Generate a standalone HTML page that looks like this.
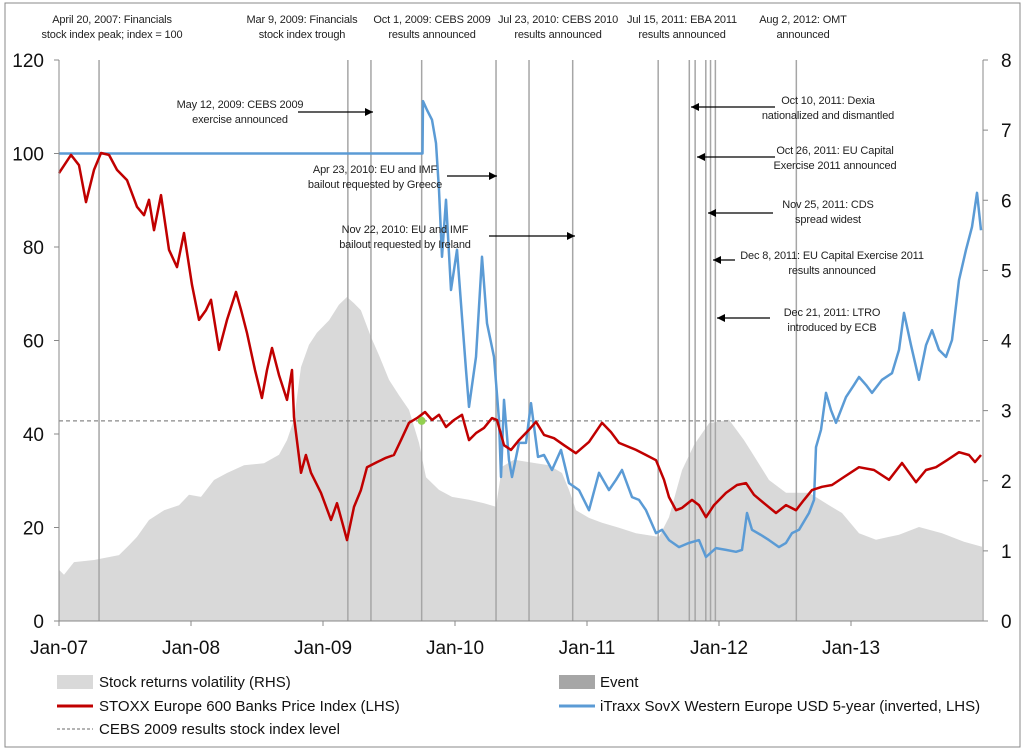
<!DOCTYPE html>
<html><head><meta charset="utf-8"><style>
body{margin:0;background:#fff;}
svg{display:block;font-family:"Liberation Sans",Arial,sans-serif;}
.ann{font-size:11px;fill:#222;text-anchor:middle;letter-spacing:-0.15px;}
.ax{font-size:19px;fill:#111;}
.lg{font-family:"Liberation Sans Narrow","Liberation Sans",sans-serif;font-size:15px;fill:#111;}
</style></head><body>
<svg id="chart" width="1024" height="752" viewBox="0 0 1024 752">
<rect x="5" y="3" width="1015" height="744" fill="#fff" stroke="#888" stroke-width="1"/>
<g id="vol"></g>
<g id="events"></g>
<g id="refline"></g>
<g id="series"></g>
<g id="axes"></g>
<g id="annots"></g>
<g id="legend">
 <rect x="57" y="675" width="36" height="14" fill="#d9d9d9"/>
 <text class="lg" x="99" y="687">Stock returns volatility (RHS)</text>
 <rect x="559" y="675" width="36" height="14" fill="#a6a6a6"/>
 <text class="lg" x="600" y="687">Event</text>
 <line x1="57" y1="706" x2="93" y2="706" stroke="#c00000" stroke-width="3"/>
 <text class="lg" x="99" y="711">STOXX Europe 600 Banks Price Index (LHS)</text>
 <line x1="559" y1="706" x2="595" y2="706" stroke="#5b9bd5" stroke-width="3"/>
 <text class="lg" x="600" y="711">iTraxx SovX Western Europe USD 5-year (inverted, LHS)</text>
 <line x1="57" y1="729" x2="93" y2="729" stroke="#888" stroke-width="1.2" stroke-dasharray="3,2"/>
 <text class="lg" x="99" y="734">CEBS 2009 results stock index level</text>
</g>
</svg>
<script>
// months since Jan-2007
const redMonths=[0,1.09,1.82,2.45,3.18,3.82,4.55,5.27,6.18,7.09,7.73,8.18,8.64,9.27,10,10.73,11.36,12.09,12.73,13.36,13.82,14.55,15.27,16.09,16.55,17.09,17.82,18.45,18.91,19.36,20,20.73,21.18,21.36,22,22.45,22.91,23.82,24.73,25.27,25.82,26.18,26.82,27.45,28,28.91,29.73,30.45,31.09,31.82,32.55,33.27,33.91,34.55,35.18,35.91,36.64,37.27,37.91,38.64,39.36,39.82,40.45,41.09,41.82,42.73,43.36,44.09,45,45.91,46.99,48.18,49.36,50.18,50.91,52.45,53.36,54.27,55,55.45,56.09,56.64,57.55,58.18,58.82,59.55,60.64,61.64,62.45,63.18,64.09,65.18,66.09,67,67.73,68.45,69.36,70.27,71.36,72.73,74.09,75.45,76.64,77.91,78.82,79.73,80.73,81.82,82.73,83.27,83.82];
const redValues=[95.8,99.7,97.5,89.6,96.5,100.1,99.7,96.5,94.3,88.6,86.8,90.1,83.6,91.1,79.4,75.7,83,71.9,64.4,66.5,68.7,58,64.4,70.4,66.5,61.6,53.7,47.7,53.7,58.4,52.6,47.3,53.7,43.6,31.7,35.5,31.7,27.4,21.6,25.2,20.5,17.3,24.4,28,32.9,34,34.9,35.5,38.7,42.4,43.4,44.7,43,44.1,41.5,43,44.1,38.7,40.2,41.3,43.4,43,37.6,36.6,38.7,40.9,42.6,39.8,39.1,37.6,35.9,38.3,42.4,40.4,38.1,36.6,35.5,34.4,30.2,26.5,23.7,24.2,25.9,24.8,22.2,24.8,27.4,29.1,29.5,27,25.2,23.1,24.8,23.7,25.9,28,28.7,29.1,30.8,32.9,32.3,30.2,33.8,29.7,32.3,32.9,34.4,36.1,35.5,34,35.5];
const blueMonths=[0,33.05,33.09,33.45,33.91,34.27,34.55,34.82,35.18,35.64,36.18,36.64,37,37.27,37.91,38.45,38.91,39.55,40,40.18,40.45,40.91,41.18,41.82,42.45,42.91,43.55,44.09,44.82,45.64,46.36,47.27,48.18,49.09,50,50.64,51.18,52.09,52.73,53.36,54.27,54.82,55.45,56.36,57.27,58.18,58.82,59.73,60.64,61.55,62.09,62.55,63,63.82,64.55,65.45,66.09,66.64,67.27,68.18,68.64,68.82,69.27,69.73,70.18,70.64,71.55,72.27,72.73,73.36,73.91,74.82,75.73,76.36,76.82,77.45,78.18,78.82,79.36,80,80.64,81.18,81.82,82.45,83,83.45,83.82];
const blueValues=[100,100,111.2,109.3,107.2,102.2,92.2,77.9,90.1,70.8,79.4,65,53.7,45.8,56.5,77.9,63.7,56.5,43,30.8,47.3,34.4,30.8,38.1,38.1,46.6,35.1,35.5,32.3,36.6,29.5,28,23.7,31.7,28,30.2,32.3,26.5,25.9,23.7,18.8,19.5,17.3,15.8,16.7,17.3,13.7,15.6,15.2,14.8,15.2,23.1,19.5,18.4,17.3,15.8,16.7,18.8,19.5,23.1,25.9,37.2,40.9,48.8,45.1,42.4,47.9,50.5,52.2,50.5,48.8,51.6,53,58,65.9,59,51.6,59,62.2,58,56.5,60.1,72.9,79.4,84.3,91.6,83.6];
const volMonths=[0,0.45,1.36,3.18,5.45,6.36,7.09,8.18,9.55,10.91,11.82,12.91,14.09,15.27,16.82,18.64,20,20.73,21.36,22,22.73,23.45,24.55,25.45,26.18,26.82,27.45,28.36,29.09,30,30.91,31.82,32.73,33.36,34.55,35.73,37.27,38.64,39.73,40.27,41.36,43.36,44.55,45.73,46.36,47,48.18,49.36,50.91,52.45,54.55,55.45,56.64,57.73,59.09,60.91,62.27,63,64.55,66.09,68.18,70,71.18,72.73,74.27,76.36,78.18,80.27,82.27,83.91];
const volValues=[0.73,0.66,0.84,0.87,0.94,1.08,1.2,1.44,1.58,1.65,1.8,1.77,2.01,2.11,2.22,2.25,2.37,2.58,2.87,3.62,3.94,4.11,4.29,4.51,4.62,4.53,4.43,4.05,3.79,3.44,3.22,3.01,2.54,2.05,1.87,1.77,1.73,1.68,1.63,2.2,2.3,2.25,2.22,2.11,1.87,1.58,1.47,1.4,1.33,1.25,1.2,1.48,2.15,2.51,2.82,2.87,2.58,2.4,2.01,1.83,1.83,1.65,1.54,1.25,1.16,1.23,1.34,1.25,1.13,1.06];
const eventMonths=[3.64,26.26,28.36,32.97,39.73,42.73,46.7,54.47,57.3,57.83,58.8,59.23,59.67,67.03];
const leftTicks=[0,20,40,60,80,100,120];
const rightTicks=[0,1,2,3,4,5,6,7,8];
const xTickLabels=["Jan-07","Jan-08","Jan-09","Jan-10","Jan-11","Jan-12","Jan-13"];
const cebsLevel=42.8;

const X0=59,PXM=11.0,Y0=621,TOP=60;
const xs=m=>X0+m*PXM;
const yl=v=>Y0-v*(Y0-TOP)/120;
const yr=v=>Y0-v*(Y0-TOP)/8;
const NS="http://www.w3.org/2000/svg";
function mk(tag,parent,attrs){const e=document.createElementNS(NS,tag);for(const k in attrs)e.setAttribute(k,attrs[k]);parent.appendChild(e);return e;}

let d="M"+xs(volMonths[0])+","+Y0;
volMonths.forEach((m,i)=>{d+=" L"+xs(m).toFixed(1)+","+yr(volValues[i]).toFixed(1);});
d+=" L"+xs(volMonths[volMonths.length-1])+","+Y0+" Z";
const va=mk("path",document.getElementById("vol"),{d:d,fill:"#d9d9d9"});



eventMonths.forEach(m=>{
 const l=mk("line",document.getElementById("events"),{x1:xs(m),x2:xs(m),y1:TOP,y2:Y0,stroke:"#a6a6a6","stroke-width":1.5});
 
 
});

const rl=mk("line",document.getElementById("refline"),{x1:X0,x2:xs(84),y1:yl(cebsLevel),y2:yl(cebsLevel),stroke:"#888","stroke-width":1.2,"stroke-dasharray":"4,3"});



function line(ms,vs,col,name){
 let p="";ms.forEach((m,i)=>{p+=(i?" L":"M")+xs(m).toFixed(1)+","+yl(vs[i]).toFixed(1);});
 const e=mk("path",document.getElementById("series"),{d:p,fill:"none",stroke:col,"stroke-width":2.5,"stroke-linejoin":"round"});
 
 
}
line(blueMonths,blueValues,"#5b9bd5","itraxx-line");
line(redMonths,redValues,"#c00000","stoxx-line");
const dot=mk("circle",document.getElementById("series"),{cx:xs(32.97),cy:yl(cebsLevel),r:4,fill:"#92d050"});



const ax=document.getElementById("axes");
const a1=mk("line",ax,{x1:X0,x2:X0,y1:TOP,y2:Y0,stroke:"#888"});


const a2=mk("line",ax,{x1:xs(84),x2:xs(84),y1:TOP,y2:Y0,stroke:"#888"});


const a3=mk("line",ax,{x1:X0,x2:xs(84),y1:Y0,y2:Y0,stroke:"#888"});


leftTicks.forEach(v=>{
 const t=mk("line",ax,{x1:X0-5,x2:X0,y1:yl(v),y2:yl(v),stroke:"#888"});
 
 
 const tx=mk("text",ax,{x:44,y:yl(v)+7,"text-anchor":"end",class:"ax"});tx.textContent=v;
 
 
});
rightTicks.forEach(v=>{
 const t=mk("line",ax,{x1:xs(84),x2:xs(84)+5,y1:yr(v),y2:yr(v),stroke:"#888"});
 
 
 const tx=mk("text",ax,{x:1001,y:yr(v)+7,"text-anchor":"start",class:"ax"});tx.textContent=v;
 
 
});
xTickLabels.forEach((s,i)=>{
 const t=mk("line",ax,{x1:xs(i*12),x2:xs(i*12),y1:Y0,y2:Y0+5,stroke:"#888"});
 
 
 const tx=mk("text",ax,{x:xs(i*12),y:654,"text-anchor":"middle",class:"ax"});tx.textContent=s;
 
 
});

const an=document.getElementById("annots");
function txt(x,y,lines,name){lines.forEach((s,i)=>{const t=mk("text",an,{x:x,y:y+i*15,class:"ann"});t.textContent=s;
 
 });}
function arrow(x1,x2,y,name){
 const l=mk("line",an,{x1:x1,x2:x2,y1:y,y2:y,stroke:"#000","stroke-width":1.3});
 
 
 const dir=x2>x1?1:-1;
 const h=mk("polygon",an,{points:`${x2},${y} ${x2-dir*8},${y-4} ${x2-dir*8},${y+4}`,fill:"#000"});
 
 
}
txt(112,23,["April 20, 2007: Financials","stock index peak; index = 100"],"annotation-peak");
txt(302,23,["Mar 9, 2009: Financials","stock index trough"],"annotation-trough");
txt(432,23,["Oct 1, 2009: CEBS 2009","results announced"],"annotation-cebs2009");
txt(558,23,["Jul 23, 2010: CEBS 2010","results announced"],"annotation-cebs2010");
txt(682,23,["Jul 15, 2011: EBA 2011","results announced"],"annotation-eba2011");
txt(803,23,["Aug 2, 2012: OMT","announced"],"annotation-omt");
txt(240,108,["May 12, 2009: CEBS 2009","exercise announced"],"annotation-cebs-exercise");
arrow(298,373,112,"arrow-cebs-exercise");
txt(375,173,["Apr 23, 2010: EU and IMF","bailout requested by Greece"],"annotation-greece");
arrow(447,497,176,"arrow-greece");
txt(405,233,["Nov 22, 2010: EU and IMF","bailout requested by Ireland"],"annotation-ireland");
arrow(489,575,236,"arrow-ireland");
txt(828,104,["Oct 10, 2011: Dexia","nationalized and dismantled"],"annotation-dexia");
arrow(775,691,107,"arrow-dexia");
txt(835,154,["Oct 26, 2011: EU Capital","Exercise 2011 announced"],"annotation-eu-capital");
arrow(775,697,157,"arrow-eu-capital");
txt(828,208,["Nov 25, 2011: CDS","spread widest"],"annotation-cds");
arrow(773,708,213,"arrow-cds");
txt(832,259,["Dec 8, 2011: EU Capital Exercise 2011","results announced"],"annotation-eu-results");
arrow(735,713,260,"arrow-eu-results");
txt(832,316,["Dec 21, 2011: LTRO","introduced by ECB"],"annotation-ltro");
arrow(770,717,318,"arrow-ltro");
</script>
</body></html>
